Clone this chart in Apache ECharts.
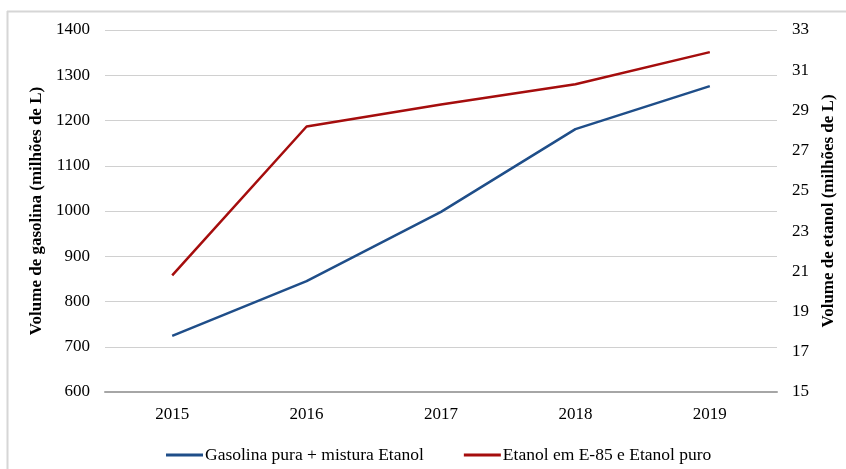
<!DOCTYPE html>
<html>
<head>
<meta charset="utf-8">
<script src="https://cdn.jsdelivr.net/npm/echarts@6/dist/echarts.min.js"></script>
<style>
  html, body { margin: 0; padding: 0; background: #fff; }
  #chart { width: 846px; height: 469px; }
</style>
</head>
<body>
<div id="chart"></div>
<script>
// Years on the category axis
const years = ['2015', '2016', '2017', '2018', '2019'];
// Gasoline volume (millions of litres), left axis
const gasolina = [724, 845, 998, 1181, 1276];
// Ethanol volume (millions of litres), right axis
const etanol = [20.8, 28.2, 29.3, 30.3, 31.9];
const seriesNames = ['Gasolina pura + mistura Etanol', 'Etanol em E-85 e Etanol puro'];
const leftTitle = 'Volume de gasolina (milhões de L)';
const rightTitle = 'Volume de etanol (milhões de L)';

const FONT = '"Liberation Serif", "Times New Roman", serif';
const FS = 17;
const BLUE = '#1f4e89';
const RED = '#a50d0d';

const chart = echarts.init(document.getElementById('chart'), null, { renderer: 'canvas' });
chart.setOption({
  animation: false,
  backgroundColor: '#fff',
  textStyle: { fontFamily: FONT },
  graphic: [
    { type: 'line', shape: { x1: 7.5, y1: 11, x2: 7.5, y2: 469 }, style: { stroke: '#d6d6d6', lineWidth: 2 } },
    { type: 'line', shape: { x1: 7, y1: 11.5, x2: 846, y2: 11.5 }, style: { stroke: '#d6d6d6', lineWidth: 2 } }
  ],
  grid: { left: 105, right: 69, top: 30, bottom: 77, containLabel: false },
  legend: {
    top: 441,
    left: 161,
    itemWidth: 37,
    itemHeight: 3,
    itemGap: 40,
    icon: 'rect',
    textStyle: { fontFamily: FONT, fontSize: 17.5, color: '#000', padding: [0, 0, 0, -3] },
    data: seriesNames
  },
  xAxis: {
    type: 'category',
    data: years,
    boundaryGap: true,
    axisLine: { lineStyle: { color: '#a6a6a6', width: 2 } },
    axisTick: { show: false },
    axisLabel: { fontFamily: FONT, fontSize: FS, color: '#000', margin: 14 }
  },
  yAxis: [
    {
      type: 'value',
      min: 600, max: 1400, interval: 100,
      name: leftTitle,
      nameLocation: 'middle',
      nameGap: 52,
      nameRotate: 90,
      nameTextStyle: { fontFamily: FONT, fontSize: FS, fontWeight: 'bold', color: '#000' },
      axisLine: { show: false },
      axisTick: { show: false },
      axisLabel: { fontFamily: FONT, fontSize: FS, color: '#000', margin: 15, formatter: v => String(v) },
      splitLine: { lineStyle: { color: '#d0d0d0', width: 1 } }
    },
    {
      type: 'value',
      min: 15, max: 33, interval: 2,
      name: rightTitle,
      nameLocation: 'middle',
      nameGap: 38,
      nameRotate: 90,
      nameTextStyle: { fontFamily: FONT, fontSize: FS, fontWeight: 'bold', color: '#000' },
      axisLine: { show: false },
      axisTick: { show: false },
      axisLabel: { fontFamily: FONT, fontSize: FS, color: '#000', margin: 15, formatter: v => String(v) },
      splitLine: { show: false }
    }
  ],
  series: [
    {
      name: seriesNames[0],
      type: 'line',
      yAxisIndex: 0,
      data: gasolina,
      symbol: 'none',
      lineStyle: { color: BLUE, width: 2.5 },
      itemStyle: { color: BLUE }
    },
    {
      name: seriesNames[1],
      type: 'line',
      yAxisIndex: 1,
      data: etanol,
      symbol: 'none',
      lineStyle: { color: RED, width: 2.5 },
      itemStyle: { color: RED }
    }
  ]
});
</script>
</body>
</html>
